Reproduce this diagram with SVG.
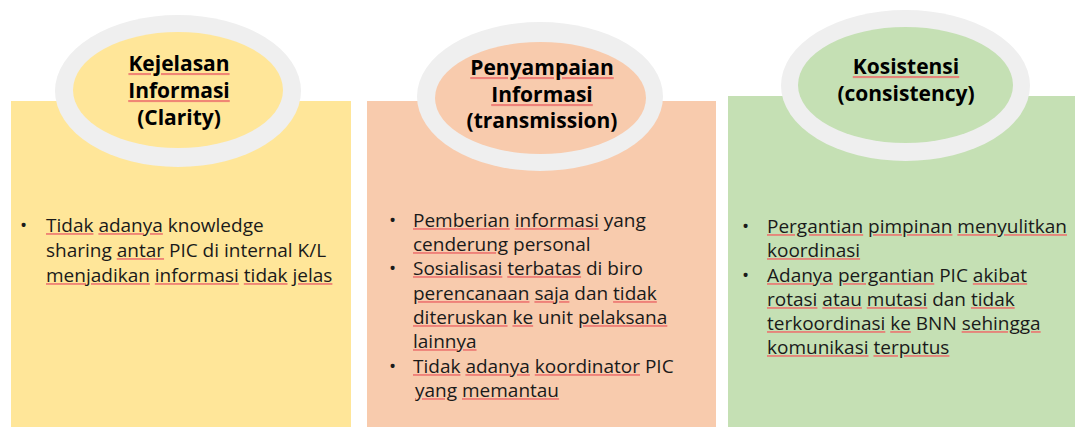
<svg xmlns="http://www.w3.org/2000/svg" width="1075" height="427" viewBox="0 0 1075 427">
  <style>
    .ring { fill: #EFEFEF; }
    .title { font-family: "Open Sans", "Noto Sans", sans-serif; font-weight: bold; font-size: 21px; fill: #000; text-anchor: middle; }
    .body { font-family: "Open Sans", "Noto Sans", sans-serif; font-size: 19px; fill: #1a1a1a; }
    /* spell-check marks: the underline takes the fill of the declaring span */
    .sp { text-decoration: underline; fill: #EC6E6C; fill-opacity: 0.8; }
    .sp tspan { fill: #1a1a1a; fill-opacity: 1; }
    .title .sp tspan { fill: #000; }
  </style>
  <rect width="1075" height="427" fill="#FFFFFF"/>

  <!-- Clarity -->
  <g id="clarity">
    <rect x="11" y="101" width="340" height="326" fill="#FFE699"/>
    <ellipse class="ring" cx="178" cy="91" rx="123" ry="76"/>
    <ellipse cx="178" cy="90" rx="105" ry="58" fill="#FFE699"/>
    <text class="title" x="179" y="71"><tspan class="sp"><tspan>Kejelasan</tspan></tspan></text>
    <text class="title" x="179" y="98"><tspan class="sp"><tspan>Informasi</tspan></tspan></text>
    <text class="title" x="179" y="125">(Clarity)</text>
    <g class="body">
      <text x="20" y="232">•</text>
      <text x="46" y="232"><tspan class="sp"><tspan>Tidak</tspan></tspan> <tspan class="sp"><tspan>adanya</tspan></tspan> knowledge</text>
      <text x="46" y="257">sharing <tspan class="sp"><tspan>antar</tspan></tspan> PIC di internal K/L</text>
      <text x="46" y="282"><tspan class="sp"><tspan>menjadikan</tspan></tspan> <tspan class="sp"><tspan>informasi</tspan></tspan> <tspan class="sp"><tspan>tidak</tspan></tspan> <tspan class="sp"><tspan>jelas</tspan></tspan></text>
    </g>
  </g>

  <!-- Transmission -->
  <g id="transmission">
    <rect x="367" y="101" width="349" height="326" fill="#F8CBAD"/>
    <ellipse class="ring" cx="540" cy="96.5" rx="123" ry="74.5"/>
    <ellipse cx="540.5" cy="98" rx="105.5" ry="56" fill="#F8CBAD"/>
    <text class="title" x="542" y="75"><tspan class="sp"><tspan>Penyampaian</tspan></tspan></text>
    <text class="title" x="542" y="102"><tspan class="sp"><tspan>Informasi</tspan></tspan></text>
    <text class="title" x="542" y="128">(transmission)</text>
    <g class="body">
      <text x="389" y="227">•</text>
      <text x="413" y="227"><tspan class="sp"><tspan>Pemberian</tspan></tspan> <tspan class="sp"><tspan>informasi</tspan></tspan> yang</text>
      <text x="413" y="251"><tspan class="sp"><tspan>cenderung</tspan></tspan> personal</text>
      <text x="389" y="275">•</text>
      <text x="413" y="275"><tspan class="sp"><tspan>Sosialisasi</tspan></tspan> <tspan class="sp"><tspan>terbatas</tspan></tspan> di biro</text>
      <text x="413" y="300"><tspan class="sp"><tspan>perencanaan</tspan></tspan> <tspan class="sp"><tspan>saja</tspan></tspan> dan <tspan class="sp"><tspan>tidak</tspan></tspan></text>
      <text x="413" y="324"><tspan class="sp"><tspan>diteruskan</tspan></tspan> <tspan class="sp"><tspan>ke</tspan></tspan> unit <tspan class="sp"><tspan>pelaksana</tspan></tspan></text>
      <text x="413" y="348"><tspan class="sp"><tspan>lainnya</tspan></tspan></text>
      <text x="389" y="373">•</text>
      <text x="413" y="373"><tspan class="sp"><tspan>Tidak</tspan></tspan> <tspan class="sp"><tspan>adanya</tspan></tspan> <tspan class="sp"><tspan>koordinator</tspan></tspan> PIC</text>
      <text x="415" y="397"><tspan class="sp"><tspan>yang</tspan></tspan> <tspan class="sp"><tspan>memantau</tspan></tspan></text>
    </g>
  </g>

  <!-- Consistency -->
  <g id="consistency">
    <rect x="728" y="96" width="347" height="331" fill="#C5E0B4"/>
    <ellipse class="ring" cx="905.5" cy="85.5" rx="124.5" ry="75.5"/>
    <ellipse cx="905.5" cy="85" rx="107.5" ry="58" fill="#C5E0B4"/>
    <text class="title" x="906" y="74"><tspan class="sp"><tspan>Kosistensi</tspan></tspan></text>
    <text class="title" x="906" y="101">(consistency)</text>
    <g class="body">
      <text x="742" y="233">•</text>
      <text x="767" y="233"><tspan class="sp"><tspan>Pergantian</tspan></tspan> <tspan class="sp"><tspan>pimpinan</tspan></tspan> <tspan class="sp"><tspan>menyulitkan</tspan></tspan></text>
      <text x="767" y="257"><tspan class="sp"><tspan>koordinasi</tspan></tspan></text>
      <text x="742" y="282">•</text>
      <text x="767" y="282"><tspan class="sp"><tspan>Adanya</tspan></tspan> <tspan class="sp"><tspan>pergantian</tspan></tspan> PIC <tspan class="sp"><tspan>akibat</tspan></tspan></text>
      <text x="767" y="306"><tspan class="sp"><tspan>rotasi</tspan></tspan> <tspan class="sp"><tspan>atau</tspan></tspan> <tspan class="sp"><tspan>mutasi</tspan></tspan> dan <tspan class="sp"><tspan>tidak</tspan></tspan></text>
      <text x="767" y="330"><tspan class="sp"><tspan>terkoordinasi</tspan></tspan> <tspan class="sp"><tspan>ke</tspan></tspan> BNN <tspan class="sp"><tspan>sehingga</tspan></tspan></text>
      <text x="767" y="354"><tspan class="sp"><tspan>komunikasi</tspan></tspan> <tspan class="sp"><tspan>terputus</tspan></tspan></text>
    </g>
  </g>

  <!-- no connectors in this figure -->
  <g id="connectors"/>
</svg>
